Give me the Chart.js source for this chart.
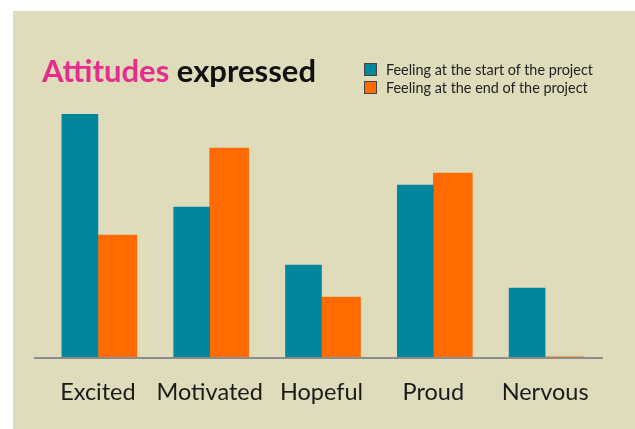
<!DOCTYPE html>
<html>
<head>
<meta charset="utf-8">
<script src="https://cdn.jsdelivr.net/npm/chart.js@4"></script>
<style>
  body { margin: 0; background: #ffffff; font-family: Lato, sans-serif; }
  #wrap { position: relative; width: 635px; height: 429px; overflow: hidden; }
  #panel { position: absolute; left: 13px; top: 11px; width: 622px; height: 418px; background: #dfdcbc; }
  #myChart { position: absolute; left: 0; top: 0; }
  #title { position: absolute; left: 42px; top: 55px; font-size: 31px; font-weight: bold; line-height: 31px; color: #111; white-space: nowrap; }
  #title span { color: #e62c8c; }
  #legend { position: absolute; left: 364px; top: 60px; font-size: 14.4px; color: #222; }
  .item { height: 18px; display: flex; align-items: center; white-space: nowrap; }
  .box { width: 11px; height: 11px; border: 1px solid #444; margin-right: 9px; }
</style>
</head>
<body>
<div id="wrap">
  <div id="panel"></div>
  <canvas id="myChart" width="635" height="429"></canvas>
  <div id="title"><span>Attitudes</span> expressed</div>
  <div id="legend"></div>
</div>
<script>
// chart data
const categories = ["Excited", "Motivated", "Hopeful", "Proud", "Nervous"];
const seriesNames = ["Feeling at the start of the project", "Feeling at the end of the project"];
const startValues = [24.3, 15.0, 9.2, 17.2, 6.9];
const endValues = [12.2, 20.9, 6.0, 18.4, 0.02];
const yMax = 24.3;

const barColors = ["#00879e", "#ff6b00"];

// grey axis line, a bit wider than the plot area like in the original
const axisLine = {
  id: "axisLine",
  afterDatasetsDraw(chart) {
    const ctx = chart.ctx;
    const y = chart.scales.x.top + 1;
    ctx.save();
    ctx.strokeStyle = "#8c8c8c";
    ctx.lineWidth = 2;
    ctx.beginPath();
    ctx.moveTo(chart.chartArea.left - 8, y);
    ctx.lineTo(chart.chartArea.right + 2, y);
    ctx.stroke();
    ctx.restore();
  }
};

const myChart = new Chart("myChart", {
  type: "bar",
  data: {
    labels: categories,
    datasets: [{
      label: seriesNames[0],
      data: startValues,
      backgroundColor: barColors[0],
      barThickness: 36
    }, {
      label: seriesNames[1],
      data: endValues,
      backgroundColor: barColors[1],
      barThickness: 39
    }]
  },
  options: {
    responsive: false,
    animation: false,
    devicePixelRatio: 1,
    layout: { padding: { left: 42, right: 34, top: 114, bottom: 0 } },
    plugins: {
      legend: { display: false },
      title: { display: false },
      tooltip: { enabled: false }
    },
    scales: {
      x: {
        grid: { display: false, drawTicks: false },
        border: { display: false },
        ticks: {
          color: "#1a1a1a",
          font: { family: "Lato", size: 23.5 },
          padding: 21,
          maxRotation: 0
        },
        afterFit: function(scale) { scale.height = 72; }
      },
      y: {
        display: false,
        min: 0,
        max: yMax
      }
    }
  },
  plugins: [axisLine]
});

// html legend built from the datasets
const legendDiv = document.getElementById("legend");
myChart.data.datasets.forEach(ds => {
  let item = document.createElement("div");
  item.className = "item";
  let box = document.createElement("div");
  box.className = "box";
  box.style.background = ds.backgroundColor;
  let text = document.createElement("span");
  text.textContent = ds.label;
  item.appendChild(box);
  item.appendChild(text);
  legendDiv.appendChild(item);
});
</script>
</body>
</html>
